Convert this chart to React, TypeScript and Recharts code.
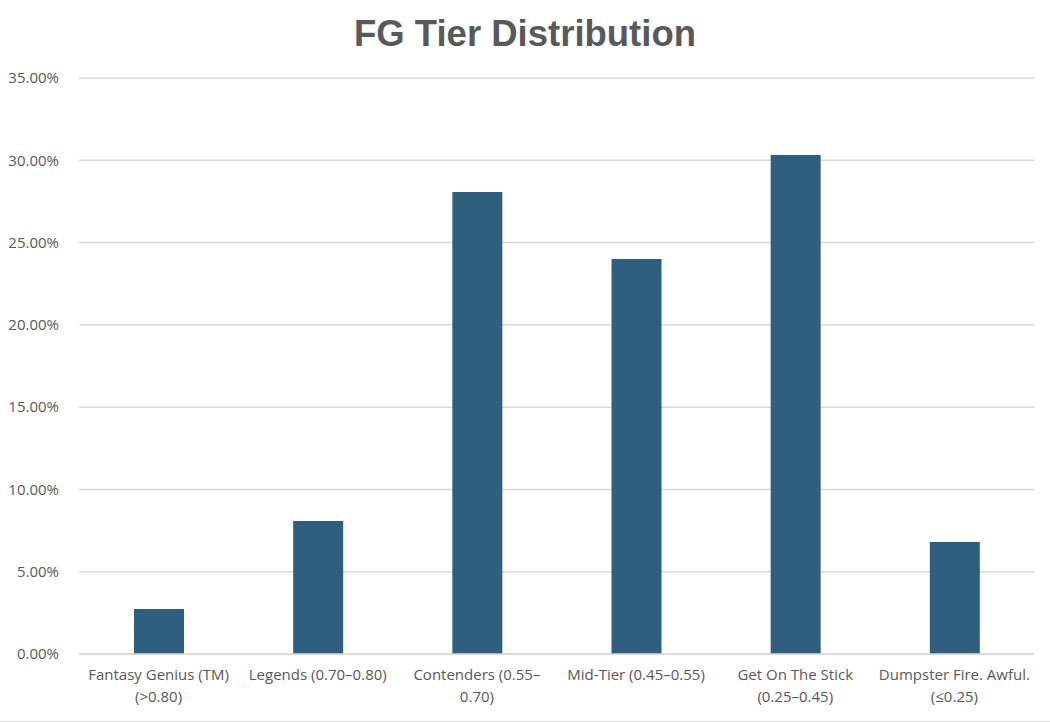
import React from "react";
import { BarChart, Bar, XAxis, YAxis, CartesianGrid, Text } from "recharts";

const CATEGORIES = [
  "Fantasy Genius (TM)\n(>0.80)",
  "Legends (0.70–0.80)",
  "Contenders (0.55–\n0.70)",
  "Mid-Tier (0.45–0.55)",
  "Get On The Stick\n(0.25–0.45)",
  "Dumpster Fire. Awful.\n(≤0.25)",
];

const SHARES = [0.0273, 0.0808, 0.2807, 0.24, 0.3032, 0.068];

const Y_TICKS = [0, 0.05, 0.1, 0.15, 0.2, 0.25, 0.3, 0.35];

const data = CATEGORIES.map((tier, i) => ({ tier, share: SHARES[i] }));

const TEXT = "#595959";
const FONT = "'Open Sans', sans-serif";

function TierTick(props: any) {
  const { x, y, payload } = props;
  const lines = String(payload.value).split("\n");
  return (
    <g>
      {lines.map((line, i) => (
        <Text
          key={i}
          x={x}
          y={y + 7 + i * 22}
          textAnchor="middle"
          verticalAnchor="start"
          fill={TEXT}
          fontSize={15}
          fontFamily={FONT}
        >
          {line}
        </Text>
      ))}
    </g>
  );
}

export default function App() {
  return (
    <div
      style={{
        position: "fixed",
        left: 0,
        top: 0,
        width: 1050,
        height: 722,
        background: "#fff",
        borderBottom: "1px solid #d9d9d9",
        boxSizing: "border-box",
      }}
    >
      <div
        style={{
          position: "absolute",
          top: 13,
          width: 1050,
          textAlign: "center",
          fontFamily: "'Liberation Sans', Arial, sans-serif",
          fontWeight: 700,
          fontSize: 36.5,
          color: TEXT,
        }}
      >
        FG Tier Distribution
      </div>
      <BarChart
        width={1050}
        height={722}
        data={data}
        margin={{ top: 78, right: 16, left: 0, bottom: 8 }}
      >
        <CartesianGrid vertical={false} stroke="#d9d9d9" strokeWidth={1.5} />
        <XAxis
          dataKey="tier"
          interval={0}
          height={60}
          axisLine={{ stroke: "#d9d9d9", strokeWidth: 1.5 }}
          tickLine={false}
          tick={<TierTick />}
        />
        <YAxis
          width={79}
          domain={[0, 0.35]}
          ticks={Y_TICKS}
          axisLine={false}
          tickLine={false}
          tickFormatter={(v: number) => (v * 100).toFixed(2) + "%"}
          tick={{ fill: TEXT, fontSize: 15, fontFamily: FONT }}
          tickMargin={14}
        />
        <Bar dataKey="share" fill="#2e5f7f" barSize={50} isAnimationActive={false} />
      </BarChart>
    </div>
  );
}
